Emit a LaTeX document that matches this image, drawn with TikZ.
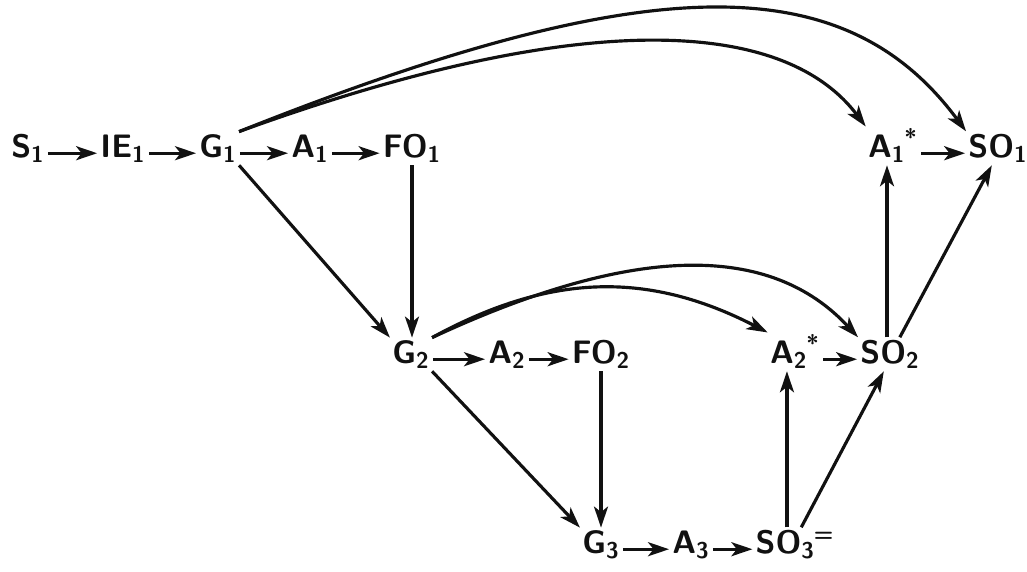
\documentclass[tikz,border=0pt]{standalone}
\usetikzlibrary{arrows.meta}
\definecolor{ink}{HTML}{111111}
\tikzset{
  % ---- species -----------------------------------------------------
  sp/.style   = {inner sep=1.2pt, anchor=base, text=ink,
                 font=\fontsize{18.5}{22}\selectfont\sffamily\bfseries},
  % ---- steps -------------------------------------------------------
  rx/.style   = {draw=ink, line width=1.8pt,
                 -{Stealth[length=4.2mm,width=2.8mm,inset=1.1mm]}},
  hop/.style  = {rx, shorten <=0.5pt, shorten >=0.5pt},
}
\newcommand{\spc}[2]{#1\textsubscript{#2}}
\newcommand{\spx}[3]{#1\textsubscript{#2}\kern-.5pt\textsuperscript{#3}}

\begin{document}
\begin{tikzpicture}[x=0.02cm, y=-0.02cm]
  \useasboundingbox (0,0) rectangle (1027,571);
  % row 1
  \node[sp] (S1)  at (28,157)  {\spc{S}{1}};
  \node[sp] (IE1) at (123,157) {\spc{IE}{1}};
  \node[sp] (G1)  at (218,157) {\spc{G}{1}};
  \node[sp] (A1)  at (310,157) {\spc{A}{1}};
  \node[sp] (FO1) at (412,157) {\spc{FO}{1}};
  \node[sp] (A1s) at (893,157) {\spx{A}{1}{*}};
  \node[sp] (SO1) at (998,157) {\spc{SO}{1}};
  % row 2
  \node[sp] (G2)  at (411,363) {\spc{G}{2}};
  \node[sp] (A2)  at (507,363) {\spc{A}{2}};
  \node[sp] (FO2) at (601,363) {\spc{FO}{2}};
  \node[sp] (A2s) at (795,363) {\spx{A}{2}{*}};
  \node[sp] (SO2) at (890,363) {\spc{SO}{2}};
  % row 3
  \node[sp] (G3)  at (601,553) {\spc{G}{3}};
  \node[sp] (A3)  at (691,553) {\spc{A}{3}};
  \node[sp] (SO3) at (795,553) {\spx{SO}{3}{=}};

  % straight steps
  \draw[hop] (S1.mid east) -- (IE1.mid west);
  \draw[hop] (IE1.mid east) -- (G1.mid west);
  \draw[hop] (G1.mid east) -- (A1.mid west);
  \draw[hop] (A1.mid east) -- (FO1.mid west);
  \draw[hop] (A1s.mid east) -- (SO1.mid west);
  \draw[hop] (G2.mid east) -- (A2.mid west);
  \draw[hop] (A2.mid east) -- (FO2.mid west);
  \draw[hop] (A2s.mid east) -- (SO2.mid west);
  \draw[hop] (G3.mid east) -- (A3.mid west);
  \draw[hop] (A3.mid east) -- (SO3.mid west);
  \draw[rx] (G1.south east) -- (G2.north west);
  \draw[rx] (G2.south east) -- (G3.north west);
  \draw[rx] (FO1.south) -- (FO1.south |- G2.north);
  \draw[rx] (FO2.south) -- (FO2.south |- G3.north);
  \draw[rx] (SO3.115) -- (SO3.115 |- A2s.south);
  \draw[rx] (SO2.100) -- (SO2.100 |- A1s.south);
  \draw[rx] (SO3.70) -- (SO2.250);
  \draw[rx] (SO2.60) -- (SO1.250);

  % long-range steps
  \draw[rx] (G1.north east) .. controls +(416,-166) and +(-120,-162) .. (SO1.north west);
  \draw[rx] (G1.north east) .. controls +(327,-119) and +(-86,-114) .. (A1s.north west);
  \draw[rx] (G2.north east) .. controls +(204,-95) and +(-87,-94) .. (SO2.north west);
  \draw[rx] (G2.north east) .. controls +(115,-63) and +(-122,-63) .. (A2s.north west);
\end{tikzpicture}
\end{document}
